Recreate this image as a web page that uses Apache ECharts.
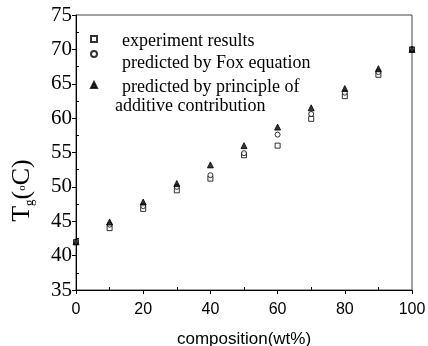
<!DOCTYPE html>
<html>
<head>
<meta charset="utf-8">
<script src="https://cdn.jsdelivr.net/npm/echarts@6/dist/echarts.min.js"></script>
<style>
  html, body { margin: 0; padding: 0; background: #fff; }
  #chart { width: 428px; height: 346px; }
</style>
</head>
<body>
<div id="chart"></div>
<script>
// composition (wt%) and Tg values
const composition = [0, 10, 20, 30, 40, 50, 60, 70, 80, 90, 100]
const experiment = [42.0, 44.0, 46.8, 49.5, 51.2, 54.6, 56.0, 59.9, 63.2, 66.3, 70.0]
const foxEquation = [42.0, 44.5, 47.2, 50.0, 51.7, 54.9, 57.6, 60.6, 63.7, 66.7, 70.0]
const additive = [42.0, 44.9, 47.8, 50.5, 53.2, 56.0, 58.7, 61.5, 64.3, 67.2, 70.0]

const xMinorTicks = [10, 30, 50, 70, 90]
const yMinorTicks = [37.5, 42.5, 47.5, 52.5, 57.5, 62.5, 67.5, 72.5]

const names = ['experiment results', 'predicted by Fox equation', 'predicted by principle of additive contribution']

const pairs = (ys) => composition.map((x, i) => [x, ys[i]])

const serif = 'Liberation Serif, Times New Roman, serif'
const sans = 'Liberation Sans, Arial, sans-serif'

const chart = echarts.init(document.getElementById('chart'), null, { renderer: 'canvas' })

// one legend per entry so each line can sit where the figure has it
function legendAt(name, top, label, padTop) {
  return {
    data: [name],
    orient: 'vertical',
    left: 90,
    top: top,
    padding: 0,
    itemWidth: 6,
    itemHeight: 6,
    selectedMode: false,
    formatter: () => '{t|' + label + '}',
    textStyle: {
      fontFamily: serif, fontSize: 18, color: '#000',
      rich: { t: { fontFamily: serif, fontSize: 18, color: '#000', padding: [padTop, 0, 0, 20] } },
    },
  }
}

chart.setOption({
  animation: false,
  grid: {
    left: 76, right: 16, top: 15, bottom: 56,
    show: true, borderColor: '#444', borderWidth: 1,
    outerBoundsMode: 'none',
  },
  legend: [
    legendAt(names[0], 32, 'experiment results', 4),
    legendAt(names[1], 50, 'predicted by Fox equation', 18),
    legendAt(names[2], 78, 'predicted by principle of', 4),
  ],
  graphic: [{
    type: 'text', left: 115, top: 97,
    style: { text: 'additive contribution', fontFamily: serif, fontSize: 18, fill: '#000' },
  }],
  xAxis: [{
    type: 'value', min: 0, max: 100, interval: 20,
    name: 'composition(wt%)', nameLocation: 'middle', nameGap: 41,
    nameTextStyle: { fontFamily: sans, fontSize: 17, color: '#000' },
    axisLine: { lineStyle: { color: '#000', width: 1 } },
    axisTick: { length: 4, lineStyle: { color: '#000' } },
    axisLabel: { fontFamily: sans, fontSize: 16, color: '#000', margin: 12 },
    splitLine: { show: false },
  }, {
    type: 'value', min: 0, max: 100, position: 'bottom',
    axisLine: { show: false },
    axisTick: { inside: true, length: 3, customValues: xMinorTicks, lineStyle: { color: '#000' } },
    axisLabel: { show: false },
    splitLine: { show: false },
  }],
  yAxis: [{
    type: 'value', min: 35, max: 75, interval: 5,
    name: 'T{sub|g}({sup|o}C)', nameLocation: 'middle', nameGap: 40,
    nameTextStyle: {
      fontFamily: serif, fontSize: 26, color: '#000', lineHeight: 28,
      padding: [0, 76, 0, 0],
      rich: {
        sub: { fontFamily: serif, fontSize: 13, color: '#000', verticalAlign: 'bottom', lineHeight: 13 },
        sup: { fontFamily: serif, fontSize: 11, color: '#000', verticalAlign: 'middle', lineHeight: 11 },
      },
    },
    axisLine: { lineStyle: { color: '#000', width: 1 } },
    axisTick: { length: 4, lineStyle: { color: '#000' } },
    axisLabel: { fontFamily: serif, fontSize: 21, color: '#000', margin: 4 },
    splitLine: { show: false },
  }, {
    type: 'value', min: 35, max: 75, position: 'left',
    axisLine: { show: false },
    axisTick: { inside: true, length: 3, customValues: yMinorTicks, lineStyle: { color: '#000' } },
    axisLabel: { show: false },
    splitLine: { show: false },
  }],
  series: [
    {
      name: names[0], type: 'scatter', data: pairs(experiment),
      symbol: 'rect', symbolSize: 5,
      itemStyle: { color: '#fff', borderColor: '#000', borderWidth: 1 },
    },
    {
      name: names[1], type: 'scatter', data: pairs(foxEquation),
      symbol: 'circle', symbolSize: 5,
      itemStyle: { color: '#fff', borderColor: '#000', borderWidth: 1 },
    },
    {
      name: names[2], type: 'scatter', data: pairs(additive),
      symbol: 'triangle', symbolSize: 6,
      itemStyle: { color: '#000', borderColor: '#000', borderWidth: 1 },
    },
  ],
})
</script>
</body>
</html>
